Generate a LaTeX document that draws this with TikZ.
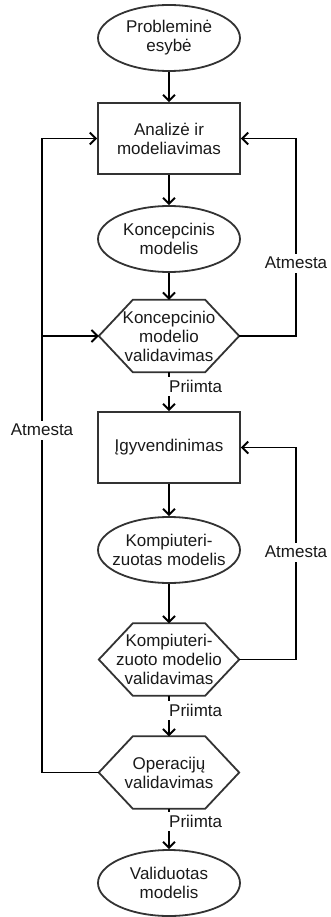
\documentclass[tikz,border=0pt]{standalone}
\usepackage{fontspec}
\setmainfont{Liberation Sans}
\usetikzlibrary{arrows.meta,shapes.geometric}
\newcommand\hexoutline[1]{%
  \draw[shapeline] (#1.west) -- ([xshift=34pt]#1.north west) -- ([xshift=-34pt]#1.north east)
    -- (#1.east) -- ([xshift=-34pt]#1.south east) -- ([xshift=34pt]#1.south west) -- cycle;}
\begin{document}
\begin{tikzpicture}[x=1pt,y=-1pt,
  txt/.style={font=\fontsize{17}{19}\selectfont, align=center, text=black!90},
  shapeline/.style={draw=black!80, line width=1.8pt, line join=miter},
  ell/.style={txt, ellipse, shapeline, minimum width=142pt, minimum height=66pt, inner xsep=-25pt, inner ysep=-12pt},
  box/.style={txt, rectangle, shapeline, minimum width=142pt, minimum height=71pt},
  hexn/.style={txt, rectangle, minimum width=140pt, minimum height=72pt, inner sep=0pt},
  conn/.style={draw=black, line width=1.9pt, -{Straight Barb[length=6pt,width=12pt,line width=1.9pt]}},
  lbl/.style={txt, fill=white, inner xsep=3pt, inner ysep=0pt, minimum height=19pt}
]
\useasboundingbox (0,0) rectangle (330,917);

% nodes
\node[ell] (e1) at (169,38) {Probleminė\\esybė};
\node[box] (r1) at (169,138.5) {Analizė ir\\modeliavimas};
\node[ell] (e2) at (169,239) {Koncepcinis\\modelis};
\node[hexn] (h1) at (169,336) {Koncepcinio\\modelio\\validavimas};
\node[box] (r2) at (169,447.5) {Įgyvendinimas};
\node[ell] (e3) at (169,550) {Kompiuteri-\\zuotas modelis};
\node[hexn] (h2) at (169,659.5) {Kompiuteri-\\zuoto modelio\\validavimas};
\node[hexn] (h3) at (169,772.5) {Operacijų\\validavimas};
\node[ell] (e4) at (169,883) {Validuotas\\modelis};

\hexoutline{h1}
\hexoutline{h2}
\hexoutline{h3}

% helper coordinates
\coordinate (rx1) at (296,336);
\coordinate (rx2) at (296,659.5);
\coordinate (lx) at (42,772.5);
\coordinate (lj) at (42,336);

% straight connectors
\draw[conn] (e1) -- (r1);
\draw[conn] (r1) -- (e2);
\draw[conn] (e2) -- (h1);
\draw[conn] (h1) -- (r2);
\draw[conn] (r2) -- (e3);
\draw[conn] (e3) -- (h2);
\draw[conn] (h2) -- (h3);
\draw[conn] (h3) -- (e4);

% loops
\draw[conn] (h1.east) -- (rx1) |- (r1.east);
\draw[conn] (h2.east) -- (rx2) |- (r2.east);
\draw[conn] (h3.west) -- (lx) |- (r1.west);
\draw[conn] (lj) -- (h1.west);

% labels
\node[lbl, anchor=west] (p1) at (166,386) {Priimta};
\node[lbl, anchor=west] (p2) at (166,710) {Priimta};
\node[lbl, anchor=west] (p3) at (166,821) {Priimta};
\node[lbl] (a1) at (296,263) {Atmesta};
\node[lbl] (a2) at (296,552) {Atmesta};
\node[lbl] (a3) at (42,430) {Atmesta};
\end{tikzpicture}
\end{document}
